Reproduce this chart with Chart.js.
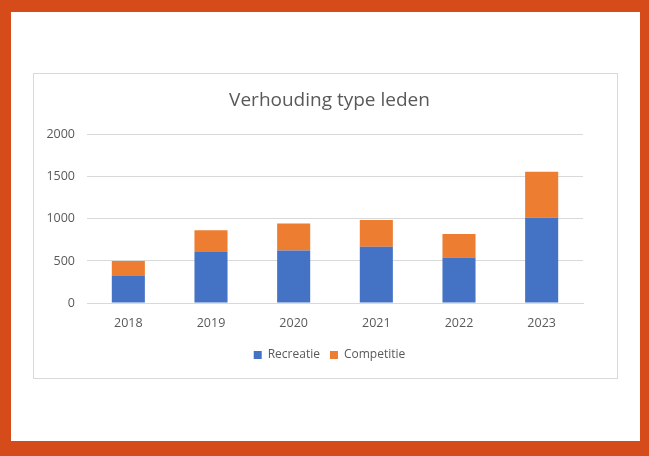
<!DOCTYPE html>
<html>
<head>
<meta charset="utf-8">
<script src="https://cdn.jsdelivr.net/npm/chart.js@4"></script>
<style>
	body { margin: 0; background: #fff; }
	#frame {
		position: absolute; left: 0; top: 0; width: 649px; height: 456px;
		box-sizing: border-box; background: #fff;
		border-style: solid; border-color: #D54B1A;
		border-width: 12px 9px 15px 11px;
	}
	#box {
		position: absolute; left: 33px; top: 73px; width: 583px; height: 304px;
		border: 1px solid #D9D9D9; background: #fff;
	}
</style>
</head>
<body>
<div id="frame"></div>
<div id="box"><canvas id="myChart" width="583" height="304"></canvas></div>
<script>
// Data
const years = ['2018', '2019', '2020', '2021', '2022', '2023'];
const recreatie = [320, 605, 625, 670, 540, 1015];
const competitie = [180, 260, 320, 318, 280, 545];
const yTicks = [0, 500, 1000, 1500, 2000];

const textColor = '#595959';
const gridColor = '#D9D9D9';
const fontFamily = "'Open Sans', 'Liberation Sans', sans-serif";

const ctxChart = document.getElementById('myChart').getContext('2d');
const myBarChart = new Chart(ctxChart, {
	type: 'bar',
	data: {
		labels: years,
		datasets: [
			{
				label: 'Recreatie',
				backgroundColor: '#4472C4',
				data: recreatie,
				categoryPercentage: 1,
				barPercentage: 0.4
			},
			{
				label: 'Competitie',
				backgroundColor: '#ED7D31',
				data: competitie,
				categoryPercentage: 1,
				barPercentage: 0.4
			}
		]
	},
	options: {
		responsive: false,
		animation: false,
		// left/right padding chosen so title and legend centre like the original
		layout: { padding: { left: 42, right: 34, top: 0, bottom: 7 } },
		plugins: {
			title: {
				display: true,
				text: 'Verhouding type leden',
				color: textColor,
				font: { family: fontFamily, size: 19, weight: 'normal' },
				padding: { top: 15, bottom: 23 }
			},
			legend: {
				position: 'bottom',
				labels: {
					color: textColor,
					font: { family: fontFamily, size: 12 },
					boxWidth: 8,
					boxHeight: 8,
					padding: 10
				}
			},
			tooltip: { enabled: false }
		},
		scales: {
			x: {
				stacked: true,
				grid: { display: false },
				border: { display: true, color: gridColor },
				ticks: { color: textColor, font: { family: fontFamily, size: 12.5 }, padding: 5 },
				afterFit: (scale) => { scale.height = 36; }
			},
			y: {
				stacked: true,
				min: 0,
				max: 2000,
				afterBuildTicks: (scale) => { scale.ticks = yTicks.map(v => ({ value: v })); },
				grid: { color: gridColor, drawTicks: false },
				border: { display: false },
				ticks: {
					color: textColor,
					font: { family: fontFamily, size: 12.5 },
					mirror: true, // mirrored labels are not clipped to the narrow axis box
					crossAlign: 'far',
					padding: -42,
					callback: (v) => String(v)
				},
				afterFit: (scale) => {
					scale.width = 11;
					// put the right edge of the labels 12px left of the plot
					const widest = scale._getLabelSizes().widest.width;
					scale.options.ticks.padding = -(12 + widest);
				}
			}
		}
	}
});
</script>
</body>
</html>
